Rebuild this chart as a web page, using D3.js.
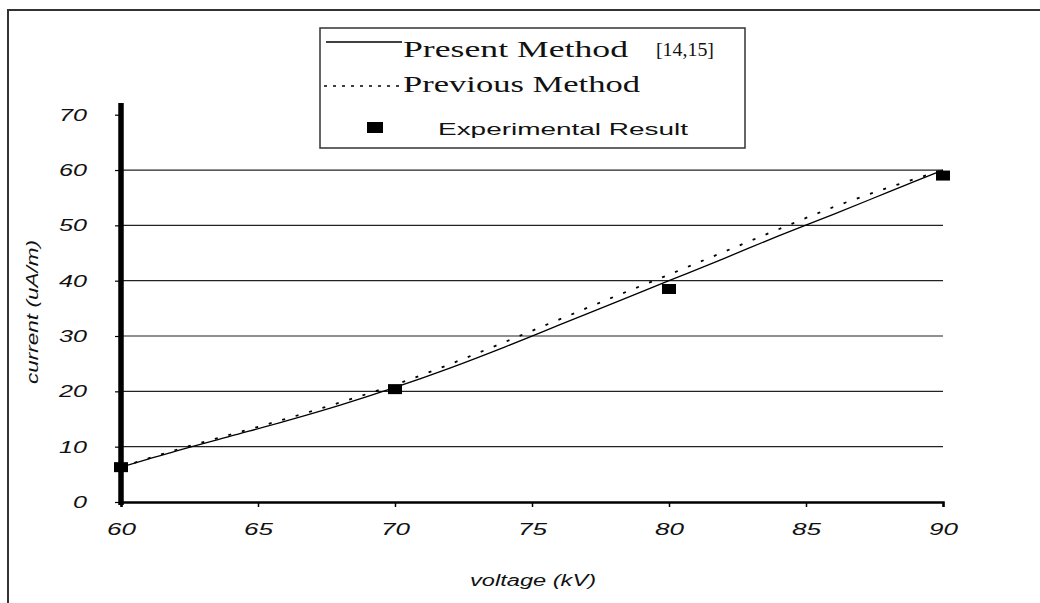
<!DOCTYPE html>
<html>
<head>
<meta charset="utf-8">
<script src="https://d3js.org/d3.v7.min.js"></script>
<style>
  body { margin: 0; background: #fff; }
  .tick-label { font-family: "Liberation Sans", Arial, sans-serif; font-style: italic; font-size: 17px; fill: #111; }
  .serif { font-family: "Liberation Serif", "Times New Roman", serif; fill: #111; }
</style>
</head>
<body>
<div id="chart"></div>
<script>
// data
const voltage = [60, 62, 64, 66, 68, 70, 72, 74, 76, 78, 80, 82, 84, 86, 88, 90];
const presentMethod = [6.3, 9.2, 11.9, 14.6, 17.5, 20.7, 24.2, 28.0, 32.0, 36.0, 40.0, 44.0, 48.1, 52.0, 56.0, 60.0];
const previousMethod = [6.3, 9.4, 12.2, 15.0, 18.0, 21.2, 24.9, 28.9, 33.0, 37.1, 41.1, 45.2, 49.3, 53.3, 56.8, 60.0];
const expVoltage = [60, 70, 80, 90];
const expCurrent = [6.3, 20.4, 38.5, 59.0];
const xTicks = [60, 65, 70, 75, 80, 85, 90];
const yTicks = [0, 10, 20, 30, 40, 50, 60, 70];
const gridTicks = [10, 20, 30, 40, 50, 60];

const W = 1040, H = 603;
const svg = d3.select("#chart").append("svg").attr("width", W).attr("height", H);

// stretch text to the width seen in the picture
const stretch = (sel, w) => sel.attr("textLength", w).attr("lengthAdjust", "spacingAndGlyphs");

// outer frame (top + left only)
svg.append("line").attr("x1", 7).attr("x2", W).attr("y1", 10).attr("y2", 10)
  .attr("stroke", "#333").attr("stroke-width", 2);
svg.append("line").attr("x1", 8).attr("x2", 8).attr("y1", 10).attr("y2", H)
  .attr("stroke", "#333").attr("stroke-width", 2);

const x = d3.scaleLinear().domain([60, 90]).range([121, 943]);
const y = d3.scaleLinear().domain([0, 70]).range([502, 114.7]);

// grid lines
svg.append("g").selectAll("line").data(gridTicks).enter().append("line")
  .attr("x1", x(60)).attr("x2", x(90))
  .attr("y1", d => y(d)).attr("y2", d => y(d))
  .attr("stroke", "#222").attr("stroke-width", 1.2);

// x axis
const xAxis = svg.append("g").attr("transform", `translate(0,${y(0)})`)
  .call(d3.axisBottom(x).tickValues(xTicks).tickSize(5).tickPadding(12).tickFormat(d3.format("d")));
xAxis.select(".domain").attr("stroke", "#000").attr("stroke-width", 2.5);
xAxis.selectAll(".tick line").attr("stroke", "#000").attr("stroke-width", 1.5);
xAxis.selectAll("text").attr("class", "tick-label").attr("font-size", null).attr("font-family", null)
  .attr("dy", null).attr("y", 33).each(function() { stretch(d3.select(this), 29); });

// y axis
const yAxis = svg.append("g").attr("transform", `translate(${x(60)},0)`)
  .call(d3.axisLeft(y).tickValues(yTicks).tickSize(6).tickPadding(28).tickFormat(d3.format("d")));
yAxis.select(".domain").remove();
yAxis.selectAll(".tick line").attr("stroke", "#000").attr("stroke-width", 1.2);
yAxis.selectAll("text").attr("class", "tick-label").attr("font-size", null).attr("font-family", null)
  .each(function(d) { stretch(d3.select(this), d === 0 ? 14 : 28); });
svg.append("line").attr("x1", x(60)).attr("x2", x(60)).attr("y1", 103).attr("y2", y(0) + 3)
  .attr("stroke", "#000").attr("stroke-width", 5.5);

// axis titles
svg.append("text").attr("class", "tick-label").attr("x", 533).attr("y", 586)
  .attr("font-size", 16).style("font-size", "16px")
  .attr("text-anchor", "middle").text("voltage (kV)")
  .call(stretch, 126);
svg.append("text").attr("class", "tick-label").style("font-size", "16px")
  .attr("transform", "translate(38,312) rotate(-90)")
  .attr("text-anchor", "middle").text("current (uA/m)")
  .call(stretch, 144);

// curves
const line = ys => d3.line().x((d, i) => x(voltage[i])).y((d, i) => y(ys[i])).curve(d3.curveMonotoneX);
svg.append("path").datum(previousMethod).attr("d", line(previousMethod))
  .attr("fill", "none").attr("stroke", "#000").attr("stroke-width", 1.8).attr("stroke-dasharray", "3,11");
svg.append("path").datum(presentMethod).attr("d", line(presentMethod))
  .attr("fill", "none").attr("stroke", "#000").attr("stroke-width", 1.3);

// experimental points
svg.append("g").selectAll("rect").data(expVoltage).enter().append("rect")
  .attr("x", d => x(d) - 7).attr("y", (d, i) => y(expCurrent[i]) - 5)
  .attr("width", 14).attr("height", 10).attr("fill", "#000");

// legend
const lg = svg.append("g");
lg.append("rect").attr("x", 320).attr("y", 28).attr("width", 425).attr("height", 120)
  .attr("fill", "#fff").attr("stroke", "#333").attr("stroke-width", 1.5);
lg.append("line").attr("x1", 326).attr("x2", 402).attr("y1", 42).attr("y2", 42)
  .attr("stroke", "#000").attr("stroke-width", 1.3);
lg.append("text").attr("class", "serif").attr("x", 403).attr("y", 57).attr("font-size", 23)
  .text("Present Method").call(stretch, 225);
lg.append("text").attr("class", "serif").attr("x", 656).attr("y", 56).attr("font-size", 19)
  .text("[14,15]").call(stretch, 58);
lg.append("line").attr("x1", 324).attr("x2", 402).attr("y1", 86).attr("y2", 86)
  .attr("stroke", "#000").attr("stroke-width", 1.3).attr("stroke-dasharray", "3,6");
lg.append("text").attr("class", "serif").attr("x", 403).attr("y", 92).attr("font-size", 23)
  .text("Previous Method").call(stretch, 237);
lg.append("rect").attr("x", 367).attr("y", 122).attr("width", 16).attr("height", 11).attr("fill", "#000");
lg.append("text").attr("x", 438).attr("y", 135)
  .attr("font-family", "Liberation Sans, Arial, sans-serif").attr("font-size", 17).attr("fill", "#111")
  .text("Experimental Result").call(stretch, 250);
</script>
</body>
</html>
